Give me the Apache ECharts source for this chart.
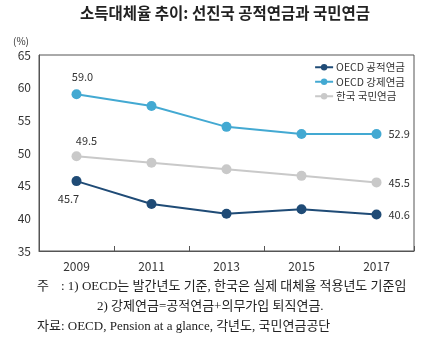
<!DOCTYPE html>
<html><head><meta charset="utf-8">
<script src="https://cdn.jsdelivr.net/npm/echarts@6/dist/echarts.min.js"></script>
<style>html,body{margin:0;padding:0;background:#fff}#c{width:430px;height:339px}</style>
</head><body><div id="c"></div>
<script>
var years = ['2009','2011','2013','2015','2017'];
var oecdPublic = [45.7, 42.2, 40.7, 41.4, 40.6];
var oecdMandatory = [59.0, 57.2, 54.0, 52.9, 52.9];
var koreaNps = [49.5, 48.5, 47.5, 46.5, 45.5];
var seriesNames = ['OECD 공적연금', 'OECD 강제연금', '한국 국민연금'];
var yTicks = [35, 40, 45, 50, 55, 60, 65];

var sansKR = '"Noto Sans CJK KR", "Noto Sans", sans-serif';
var serifKR = '"Liberation Serif", "Noto Sans CJK KR", serif';

function lab(arr, firstPos, firstOffset) {
  return arr.map(function (v, i) {
    var d = { value: v };
    if (i === 0) d.label = { show: true, position: firstPos, offset: firstOffset };
    else if (i === arr.length - 1) d.label = { show: true, position: 'right', offset: [2, 0] };
    return d;
  });
}

var chart = echarts.init(document.getElementById('c'), null, { renderer: 'canvas' });
var labelStyle = { color: '#333', fontSize: 11, fontFamily: sansKR, formatter: function (p) { return p.value.toFixed(1); } };
chart.setOption({
  animation: false,
  grid: { left: 39, right: 16, top: 55, bottom: 88, show: true, borderColor: '#555', borderWidth: 1 },
  legend: {
    top: 57, right: 20, orient: 'vertical', itemWidth: 18, itemHeight: 8, itemGap: 4,
    textStyle: { fontSize: 10.5, color: '#333', fontFamily: sansKR, padding: [0, 0, 0, -2] },
    data: seriesNames
  },
  xAxis: {
    type: 'category', data: years, boundaryGap: true,
    axisLine: { lineStyle: { color: '#555' } },
    axisTick: { show: true, inside: true, length: 5, lineStyle: { color: '#555' } },
    axisLabel: { color: '#333', fontSize: 12, margin: 9, fontFamily: sansKR }
  },
  yAxis: {
    type: 'value', min: yTicks[0], max: yTicks[yTicks.length - 1], interval: 5,
    splitLine: { show: false },
    axisLine: { show: true, lineStyle: { color: '#555' } },
    axisTick: { show: false },
    axisLabel: { color: '#333', fontSize: 12, margin: 8, fontFamily: sansKR }
  },
  series: [
    { name: seriesNames[0], type: 'line', data: lab(oecdPublic, 'bottom', [-8, 2]), color: '#1f4b76',
      symbol: 'circle', symbolSize: 10, lineStyle: { width: 2 }, label: labelStyle },
    { name: seriesNames[1], type: 'line', data: lab(oecdMandatory, 'top', [6, -2]), color: '#43a9d2',
      symbol: 'circle', symbolSize: 10, lineStyle: { width: 2 }, label: labelStyle },
    { name: seriesNames[2], type: 'line', data: lab(koreaNps, 'top', [10, 0]), color: '#c9c9c9',
      symbol: 'circle', symbolSize: 10, lineStyle: { width: 2 }, label: labelStyle }
  ],
  graphic: [
    { type: 'text', left: 80, top: 5, style: { text: '소득대체율 추이: 선진국 공적연금과 국민연금', font: 'bold 15.5px ' + sansKR, fill: '#222' } },
    { type: 'text', left: 13, top: 36, style: { text: '(%)', font: '10px ' + sansKR, fill: '#333' } },
    { type: 'text', left: 37, top: 280, style: { text: '주', font: '13px ' + serifKR, fill: '#222' } },
    { type: 'text', left: 61, top: 280, style: { text: ': 1) OECD는 발간년도 기준, 한국은 실제 대체율 적용년도 기준임', font: '13px ' + serifKR, fill: '#222' } },
    { type: 'text', left: 97, top: 300, style: { text: '2) 강제연금=공적연금+의무가입 퇴직연금.', font: '13px ' + serifKR, fill: '#222' } },
    { type: 'text', left: 37, top: 320, style: { text: '자료: OECD, Pension at a glance, 각년도, 국민연금공단', font: '13px ' + serifKR, fill: '#222' } }
  ]
});
</script></body></html>
